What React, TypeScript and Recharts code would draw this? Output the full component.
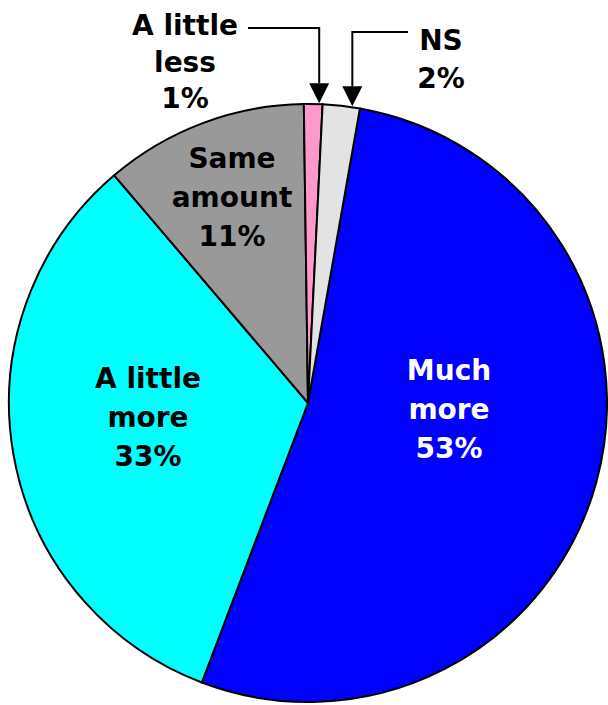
import React from 'react';
import { PieChart, Pie, Cell } from 'recharts';

// Survey answer categories, clockwise from just right of 12 o'clock
const CATEGORIES = ['Much more', 'A little more', 'Same amount', 'A little less', 'NS'];
const SHARES = [53, 33, 11, 1, 2];
const COLORS = ['#0000FF', '#00FFFF', '#999999', '#FF99CC', '#E3E3E3'];
const TEXT_COLORS = ['#FFFFFF', '#000000', '#000000', '#000000', '#000000'];

const data = CATEGORIES.map((name, i) => ({ name, value: SHARES[i] }));

const WIDTH = 608;
const HEIGHT = 705;
const CX = 308;
const CY = 403;
const RADIUS = 299;
const START = 80;

const FONT = '"DejaVu Sans", Verdana, sans-serif';
const FONT_SIZE = 28;
const LINE_GAP = 39;

// Inside labels: centre x and first baseline, relative to the pie centre
const INSIDE: Record<number, { dx: number; dy: number }> = {
  0: { dx: 141, dy: -23 },
  1: { dx: -160, dy: -15 },
  2: { dx: -76, dy: -235 },
};

// Callouts for the thin slices: text centre / first baseline, elbow line, arrow x offset from slice middle
const CALLOUT: Record<number, { tx: number; ty: number; gap: number; lineY: number; lineX: number; nudge: number }> = {
  3: { tx: 185, ty: 35, gap: 36.5, lineY: 28, lineX: 248, nudge: 6 },
  4: { tx: 441, ty: 50, gap: 38, lineY: 32, lineX: 408, nudge: 11 },
};

const RAD = Math.PI / 180;

function splitLines(name: string): string[] {
  const i = name.lastIndexOf(' ');
  return i < 0 ? [name] : [name.slice(0, i), name.slice(i + 1)];
}

function renderLabel(props: any) {
  const { cx, cy, midAngle, outerRadius, index, value, name } = props;
  const lines = [...splitLines(name), `${value}%`];
  const fill = TEXT_COLORS[index];

  if (INSIDE[index]) {
    const { dx, dy } = INSIDE[index];
    const x = cx + dx;
    const y0 = cy + dy;
    return (
      <text key={`lbl-${index}`} x={x} y={y0} textAnchor="middle" fill={fill}
        fontFamily={FONT} fontWeight="bold" fontSize={FONT_SIZE}>
        {lines.map((l, i) => (
          <tspan key={i} x={x} y={y0 + i * LINE_GAP}>{l}</tspan>
        ))}
      </text>
    );
  }

  const c = CALLOUT[index];
  const midX = cx + outerRadius * Math.cos(-midAngle * RAD);
  const tipX = midX + c.nudge;
  const tipY = cy - Math.sqrt(outerRadius * outerRadius - (tipX - cx) * (tipX - cx)) - 1;
  const headH = 20;
  const headW = 10;
  return (
    <g key={`lbl-${index}`}>
      <polyline
        points={`${c.lineX},${c.lineY} ${tipX},${c.lineY} ${tipX},${tipY - headH}`}
        fill="none" stroke="#000" strokeWidth={2}
      />
      <polygon
        points={`${tipX - headW},${tipY - headH} ${tipX + headW},${tipY - headH} ${tipX},${tipY}`}
        fill="#000"
      />
      <text x={c.tx} y={c.ty} textAnchor="middle" fill={fill}
        fontFamily={FONT} fontWeight="bold" fontSize={FONT_SIZE}>
        {lines.map((l, i) => (
          <tspan key={i} x={c.tx} y={c.ty + i * c.gap}>{l}</tspan>
        ))}
      </text>
    </g>
  );
}

export default function App() {
  return (
    <div style={{ position: 'absolute', left: 0, top: 0, width: WIDTH, height: HEIGHT, background: '#fff' }}>
      <PieChart width={WIDTH} height={HEIGHT} margin={{ top: 0, right: 0, bottom: 0, left: 0 }}>
        <Pie
          data={data}
          dataKey="value"
          nameKey="name"
          cx={CX}
          cy={CY}
          outerRadius={RADIUS}
          innerRadius={0}
          startAngle={START}
          endAngle={START - 360}
          stroke="#000"
          strokeWidth={2}
          label={renderLabel}
          labelLine={false}
          isAnimationActive={false}
        >
          {data.map((d, i) => (
            <Cell key={d.name} fill={COLORS[i]} />
          ))}
        </Pie>
      </PieChart>
    </div>
  );
}
